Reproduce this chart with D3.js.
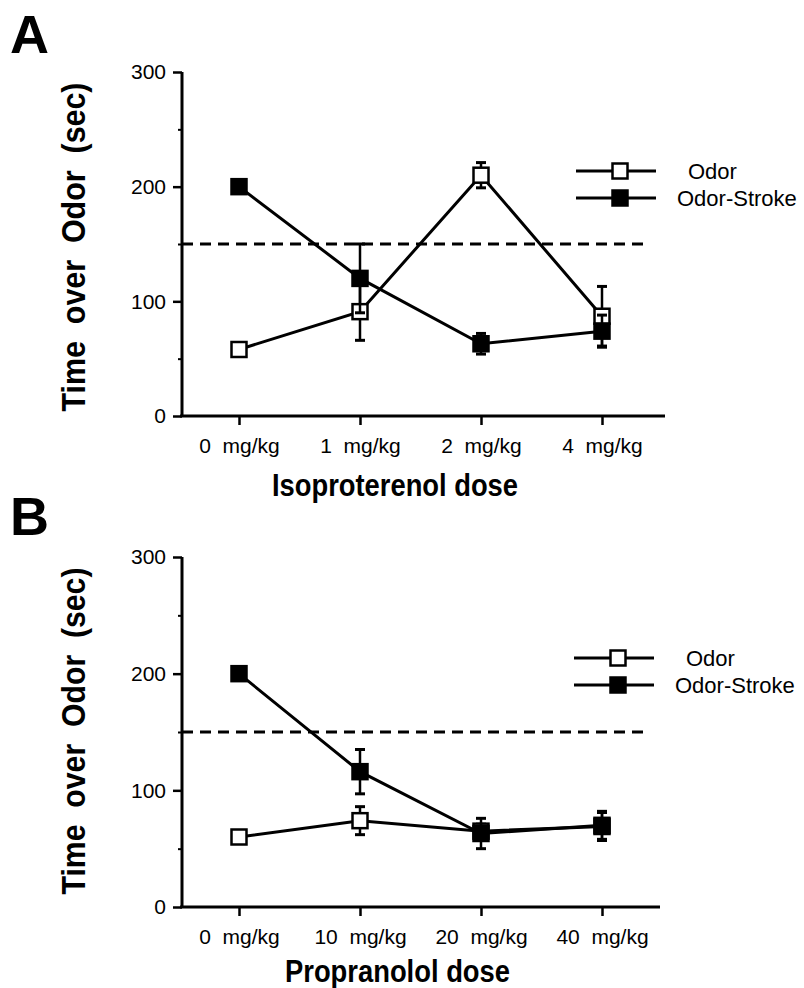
<!DOCTYPE html>
<html>
<head>
<meta charset="utf-8">
<script src="https://cdn.jsdelivr.net/npm/d3@7"></script>
<style>
  body { margin: 0; background: #fff; }
  text { font-family: "Liberation Sans", Arial, sans-serif; fill: #000; }
</style>
</head>
<body>
<script>
// data
seriesNames = ["Odor", "Odor-Stroke"]
yTicks = [0, 100, 200, 300]
yMinor = [50, 150, 250]
baseline = 150

dosesA = ["0  mg/kg", "1  mg/kg", "2  mg/kg", "4  mg/kg"]
odorA = [58, 91, 210, 87]
odorErrA = [4, 25, 11, 26]
strokeA = [200, 120, 63, 74]
strokeErrA = [4, 30, 9, 14]

dosesB = ["0  mg/kg", "10  mg/kg", "20  mg/kg", "40  mg/kg"]
odorB = [60, 74, 65, 69]
odorErrB = [3, 12, 6, 12]
strokeB = [200, 116, 63, 70]
strokeErrB = [4, 19, 13, 12]

width = 804
height = 988
sq = 15

svg = d3.select("body")
    .append("svg")
    .attr("width", width)
    .attr("height", height)

function drawPanel(p) {
    g = svg.append("g")
    x = d3.scalePoint().domain(p.doses).range([239, 602])
    y = d3.scaleLinear().domain([0, 300]).range([p.y0, p.y300])

    // panel letter
    g.append("text")
        .attr("x", 10)
        .attr("y", p.letterY)
        .attr("font-size", 54)
        .attr("font-weight", "bold")
        .text(p.letter)

    // y axis
    ya = g.append("g")
        .attr("transform", "translate(182,0)")
        .call(d3.axisLeft(y).tickValues(yTicks).tickSize(9).tickPadding(7))
    ya.select(".domain").remove()
    ya.selectAll("line").attr("stroke-width", 2.5)
    ya.selectAll("text").attr("font-size", 21)
    ym = g.append("g")
        .attr("transform", "translate(182,0)")
        .call(d3.axisLeft(y).tickValues(yMinor).tickSize(4).tickFormat(""))
    ym.select(".domain").remove()
    ym.selectAll("line").attr("stroke-width", 2)
    g.append("line")
        .attr("x1", 182).attr("x2", 182)
        .attr("y1", y(0) + 1).attr("y2", y(300))
        .attr("stroke", "black").attr("stroke-width", 3)

    // x axis
    xa = g.append("g")
        .attr("transform", "translate(0," + y(0) + ")")
        .call(d3.axisBottom(x).tickSize(9).tickPadding(13))
    xa.select(".domain").remove()
    xa.selectAll("line").attr("stroke-width", 2.5)
    xa.selectAll("text").attr("font-size", 21).style("white-space", "pre")
    g.append("line")
        .attr("x1", 180).attr("x2", p.xEnd)
        .attr("y1", y(0)).attr("y2", y(0))
        .attr("stroke", "black").attr("stroke-width", 3)

    // axis titles
    g.append("text")
        .attr("transform", "translate(85," + p.yTitleC + ") rotate(-90)")
        .attr("text-anchor", "middle")
        .attr("font-size", 34)
        .attr("font-weight", "bold")
        .attr("textLength", p.yTitleLen)
        .attr("lengthAdjust", "spacingAndGlyphs")
        .style("white-space", "pre")
        .text("Time  over  Odor  (sec)")
    g.append("text")
        .attr("x", p.xTitleX)
        .attr("y", p.xTitleY)
        .attr("font-size", 32)
        .attr("font-weight", "bold")
        .attr("textLength", p.xTitleLen)
        .attr("lengthAdjust", "spacingAndGlyphs")
        .text(p.xTitle)

    // dashed reference line
    g.append("line")
        .attr("x1", 182).attr("x2", 650)
        .attr("y1", y(baseline)).attr("y2", y(baseline))
        .attr("stroke", "black").attr("stroke-width", 3)
        .attr("stroke-dasharray", "11,7")

    line = d3.line()
        .x(function(d) { return x(d.dose); })
        .y(function(d) { return y(d.v); })

    series = [
        {vals: p.odor, errs: p.odorErr, fill: "white"},
        {vals: p.stroke, errs: p.strokeErr, fill: "black"}
    ]
    series.forEach(function(s) {
        pts = p.doses.map(function(d, i) { return {dose: d, v: s.vals[i], e: s.errs[i]}; })
        g.append("path")
            .datum(pts)
            .attr("d", line)
            .attr("fill", "none")
            .attr("stroke", "black")
            .attr("stroke-width", 3)
        eb = g.selectAll("empty")
            .data(pts)
            .enter()
            .append("g")
        eb.append("line")
            .attr("x1", function(d) { return x(d.dose); })
            .attr("x2", function(d) { return x(d.dose); })
            .attr("y1", function(d) { return y(d.v - d.e); })
            .attr("y2", function(d) { return y(d.v + d.e); })
            .attr("stroke", "black").attr("stroke-width", 2.5)
        eb.append("line")
            .attr("x1", function(d) { return x(d.dose) - 5; })
            .attr("x2", function(d) { return x(d.dose) + 5; })
            .attr("y1", function(d) { return y(d.v + d.e); })
            .attr("y2", function(d) { return y(d.v + d.e); })
            .attr("stroke", "black").attr("stroke-width", 3)
        eb.append("line")
            .attr("x1", function(d) { return x(d.dose) - 5; })
            .attr("x2", function(d) { return x(d.dose) + 5; })
            .attr("y1", function(d) { return y(d.v - d.e); })
            .attr("y2", function(d) { return y(d.v - d.e); })
            .attr("stroke", "black").attr("stroke-width", 3)
        eb.append("rect")
            .attr("x", function(d) { return x(d.dose) - sq / 2; })
            .attr("y", function(d) { return y(d.v) - sq / 2; })
            .attr("width", sq).attr("height", sq)
            .attr("fill", s.fill)
            .attr("stroke", "black").attr("stroke-width", 2.5)
    })

    // legend
    leg = g.selectAll("empty")
        .data(seriesNames)
        .enter()
        .append("g")
        .attr("transform", function(d, i) { return "translate(0," + (p.legY + i * 27) + ")"; })
    leg.append("line")
        .attr("x1", p.legX).attr("x2", p.legX + 80)
        .attr("stroke", "black").attr("stroke-width", 3)
    leg.append("rect")
        .attr("x", p.legX + 44 - sq / 2).attr("y", -sq / 2)
        .attr("width", sq).attr("height", sq)
        .attr("fill", function(d, i) { return i == 0 ? "white" : "black"; })
        .attr("stroke", "black").attr("stroke-width", 2.5)
    leg.append("text")
        .attr("x", function(d, i) { return i == 0 ? p.legX + 112 : p.legX + 101; })
        .attr("y", 8)
        .attr("font-size", 22)
        .text(function(d) { return d; })
}

drawPanel({
    letter: "A", letterY: 53,
    doses: dosesA, odor: odorA, odorErr: odorErrA, stroke: strokeA, strokeErr: strokeErrA,
    y0: 416, y300: 72, xEnd: 665,
    yTitleC: 247, yTitleLen: 329,
    xTitle: "Isoproterenol dose", xTitleX: 272, xTitleY: 496, xTitleLen: 246,
    legX: 576, legY: 171
})

drawPanel({
    letter: "B", letterY: 535,
    doses: dosesB, odor: odorB, odorErr: odorErrB, stroke: strokeB, strokeErr: strokeErrB,
    y0: 907, y300: 557, xEnd: 660,
    yTitleC: 731, yTitleLen: 327,
    xTitle: "Propranolol dose", xTitleX: 285, xTitleY: 982, xTitleLen: 225,
    legX: 574, legY: 658
})
</script>
</body>
</html>
